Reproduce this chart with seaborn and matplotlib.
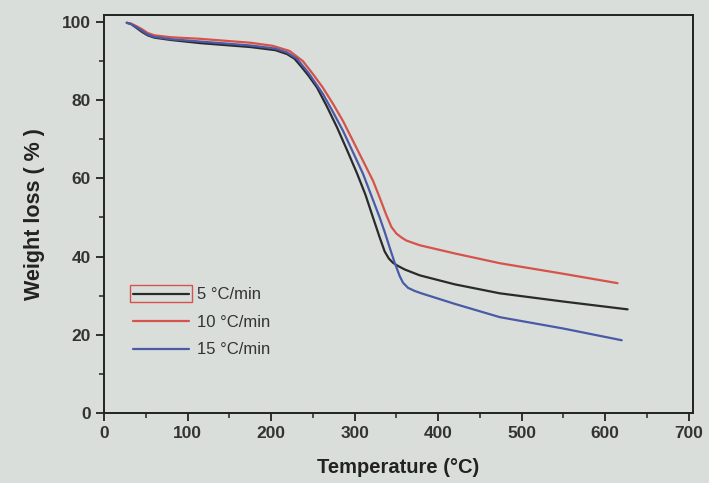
import numpy as np
import pandas as pd
import seaborn as sns
import matplotlib
matplotlib.use("Agg")
import matplotlib.pyplot as plt
from matplotlib.lines import Line2D
from matplotlib.patches import Rectangle

# --- data ---
t_5 = [27, 32, 38, 45, 52, 60, 80, 115, 175, 205, 219, 228, 236, 245, 255, 267, 279, 291, 303, 313, 322, 330, 336, 341, 346, 352, 360, 378, 420, 474, 550, 627]
w_5 = [99.8, 99.5, 98.6, 97.5, 96.6, 96.0, 95.4, 94.6, 93.6, 92.8, 91.8, 90.6, 88.6, 86.2, 83.2, 78.3, 73.0, 67.2, 61.2, 55.8, 50.0, 44.9, 41.3, 39.5, 38.4, 37.6, 36.7, 35.2, 32.9, 30.6, 28.5, 26.5]

t_10 = [27, 32, 38, 45, 52, 60, 80, 115, 175, 202, 222, 238, 250, 262, 274, 286, 298, 310, 322, 330, 338, 344, 350, 356, 362, 378, 420, 474, 550, 615]
w_10 = [99.8, 99.6, 99.0, 98.2, 97.2, 96.6, 96.1, 95.7, 94.7, 93.9, 92.6, 90.0, 86.7, 83.2, 79.1, 74.7, 69.6, 64.5, 59.4, 55.1, 50.6, 47.6, 45.9, 44.9, 44.1, 42.9, 40.8, 38.3, 35.6, 33.2]

t_15 = [27, 32, 38, 45, 52, 60, 80, 115, 175, 205, 219, 231, 245, 262, 274, 286, 298, 310, 320, 330, 336, 342, 348, 354, 358, 364, 372, 380, 420, 474, 550, 620]
w_15 = [99.8, 99.5, 98.8, 97.8, 96.8, 96.2, 95.6, 95.0, 94.0, 93.2, 92.2, 90.6, 86.9, 81.6, 77.0, 72.2, 66.7, 61.2, 55.6, 50.0, 46.3, 42.3, 38.4, 35.0, 33.3, 32.0, 31.2, 30.6, 27.9, 24.5, 21.6, 18.6]

labels = ["5 °C/min", "10 °C/min", "15 °C/min"]
colors = ["#2a2a2a", "#d6524a", "#4b5aa6"]

df = pd.concat([
    pd.DataFrame({"T": t_5, "W": w_5, "rate": labels[0]}),
    pd.DataFrame({"T": t_10, "W": w_10, "rate": labels[1]}),
    pd.DataFrame({"T": t_15, "W": w_15, "rate": labels[2]}),
], ignore_index=True)

sns.set_style("ticks")
plt.rcParams["font.family"] = ["Liberation Sans", "DejaVu Sans"]

bg = "#d9dedb"
fig = plt.figure(figsize=(7.09, 4.83), dpi=100, facecolor=bg)
ax = fig.add_axes([0.147, 0.145, 0.830, 0.824])
ax.set_facecolor(bg)

sns.lineplot(data=df, x="T", y="W", hue="rate", palette=dict(zip(labels, colors)),
             sort=False, estimator=None, linewidth=1.6, legend=False, ax=ax)

ax.set_xlim(0, 705)
ax.set_ylim(0, 101.8)
ax.set_xticks(np.arange(0, 701, 100))
ax.set_xticks(np.arange(50, 701, 100), minor=True)
ax.set_yticks(np.arange(0, 101, 20))
ax.set_yticks(np.arange(10, 101, 20), minor=True)
ax.tick_params(which="major", direction="out", length=6, width=1.3, color="#222222",
               labelsize=12.5, labelcolor="#333333")
ax.tick_params(which="minor", direction="out", length=3.5, width=1.1, color="#222222")
for lab in ax.get_xticklabels() + ax.get_yticklabels():
    lab.set_fontweight("bold")
for s in ax.spines.values():
    s.set_visible(True)
    s.set_linewidth(1.4)
    s.set_color("#222222")

ax.set_xlabel("Temperature (°C)", fontsize=14.5, fontweight="bold", color="#222222", labelpad=12)
ax.set_ylabel("Weight loss ( % )", fontsize=15.5, fontweight="bold", color="#222222", labelpad=12)

handles = [Line2D([], [], color=c, lw=1.6) for c in colors]
leg = ax.legend(handles, labels, loc="upper left", bbox_to_anchor=(0.023, 0.353),
                frameon=False, fontsize=12, handlelength=3.4, handletextpad=0.45,
                labelspacing=0.75, labelcolor="#333333")
ax.add_patch(Rectangle((0.044, 0.279), 0.105, 0.042, transform=ax.transAxes,
                       fill=False, edgecolor="#d6524a", lw=1.0))

fig.savefig("out.png", dpi=100, facecolor=bg)
